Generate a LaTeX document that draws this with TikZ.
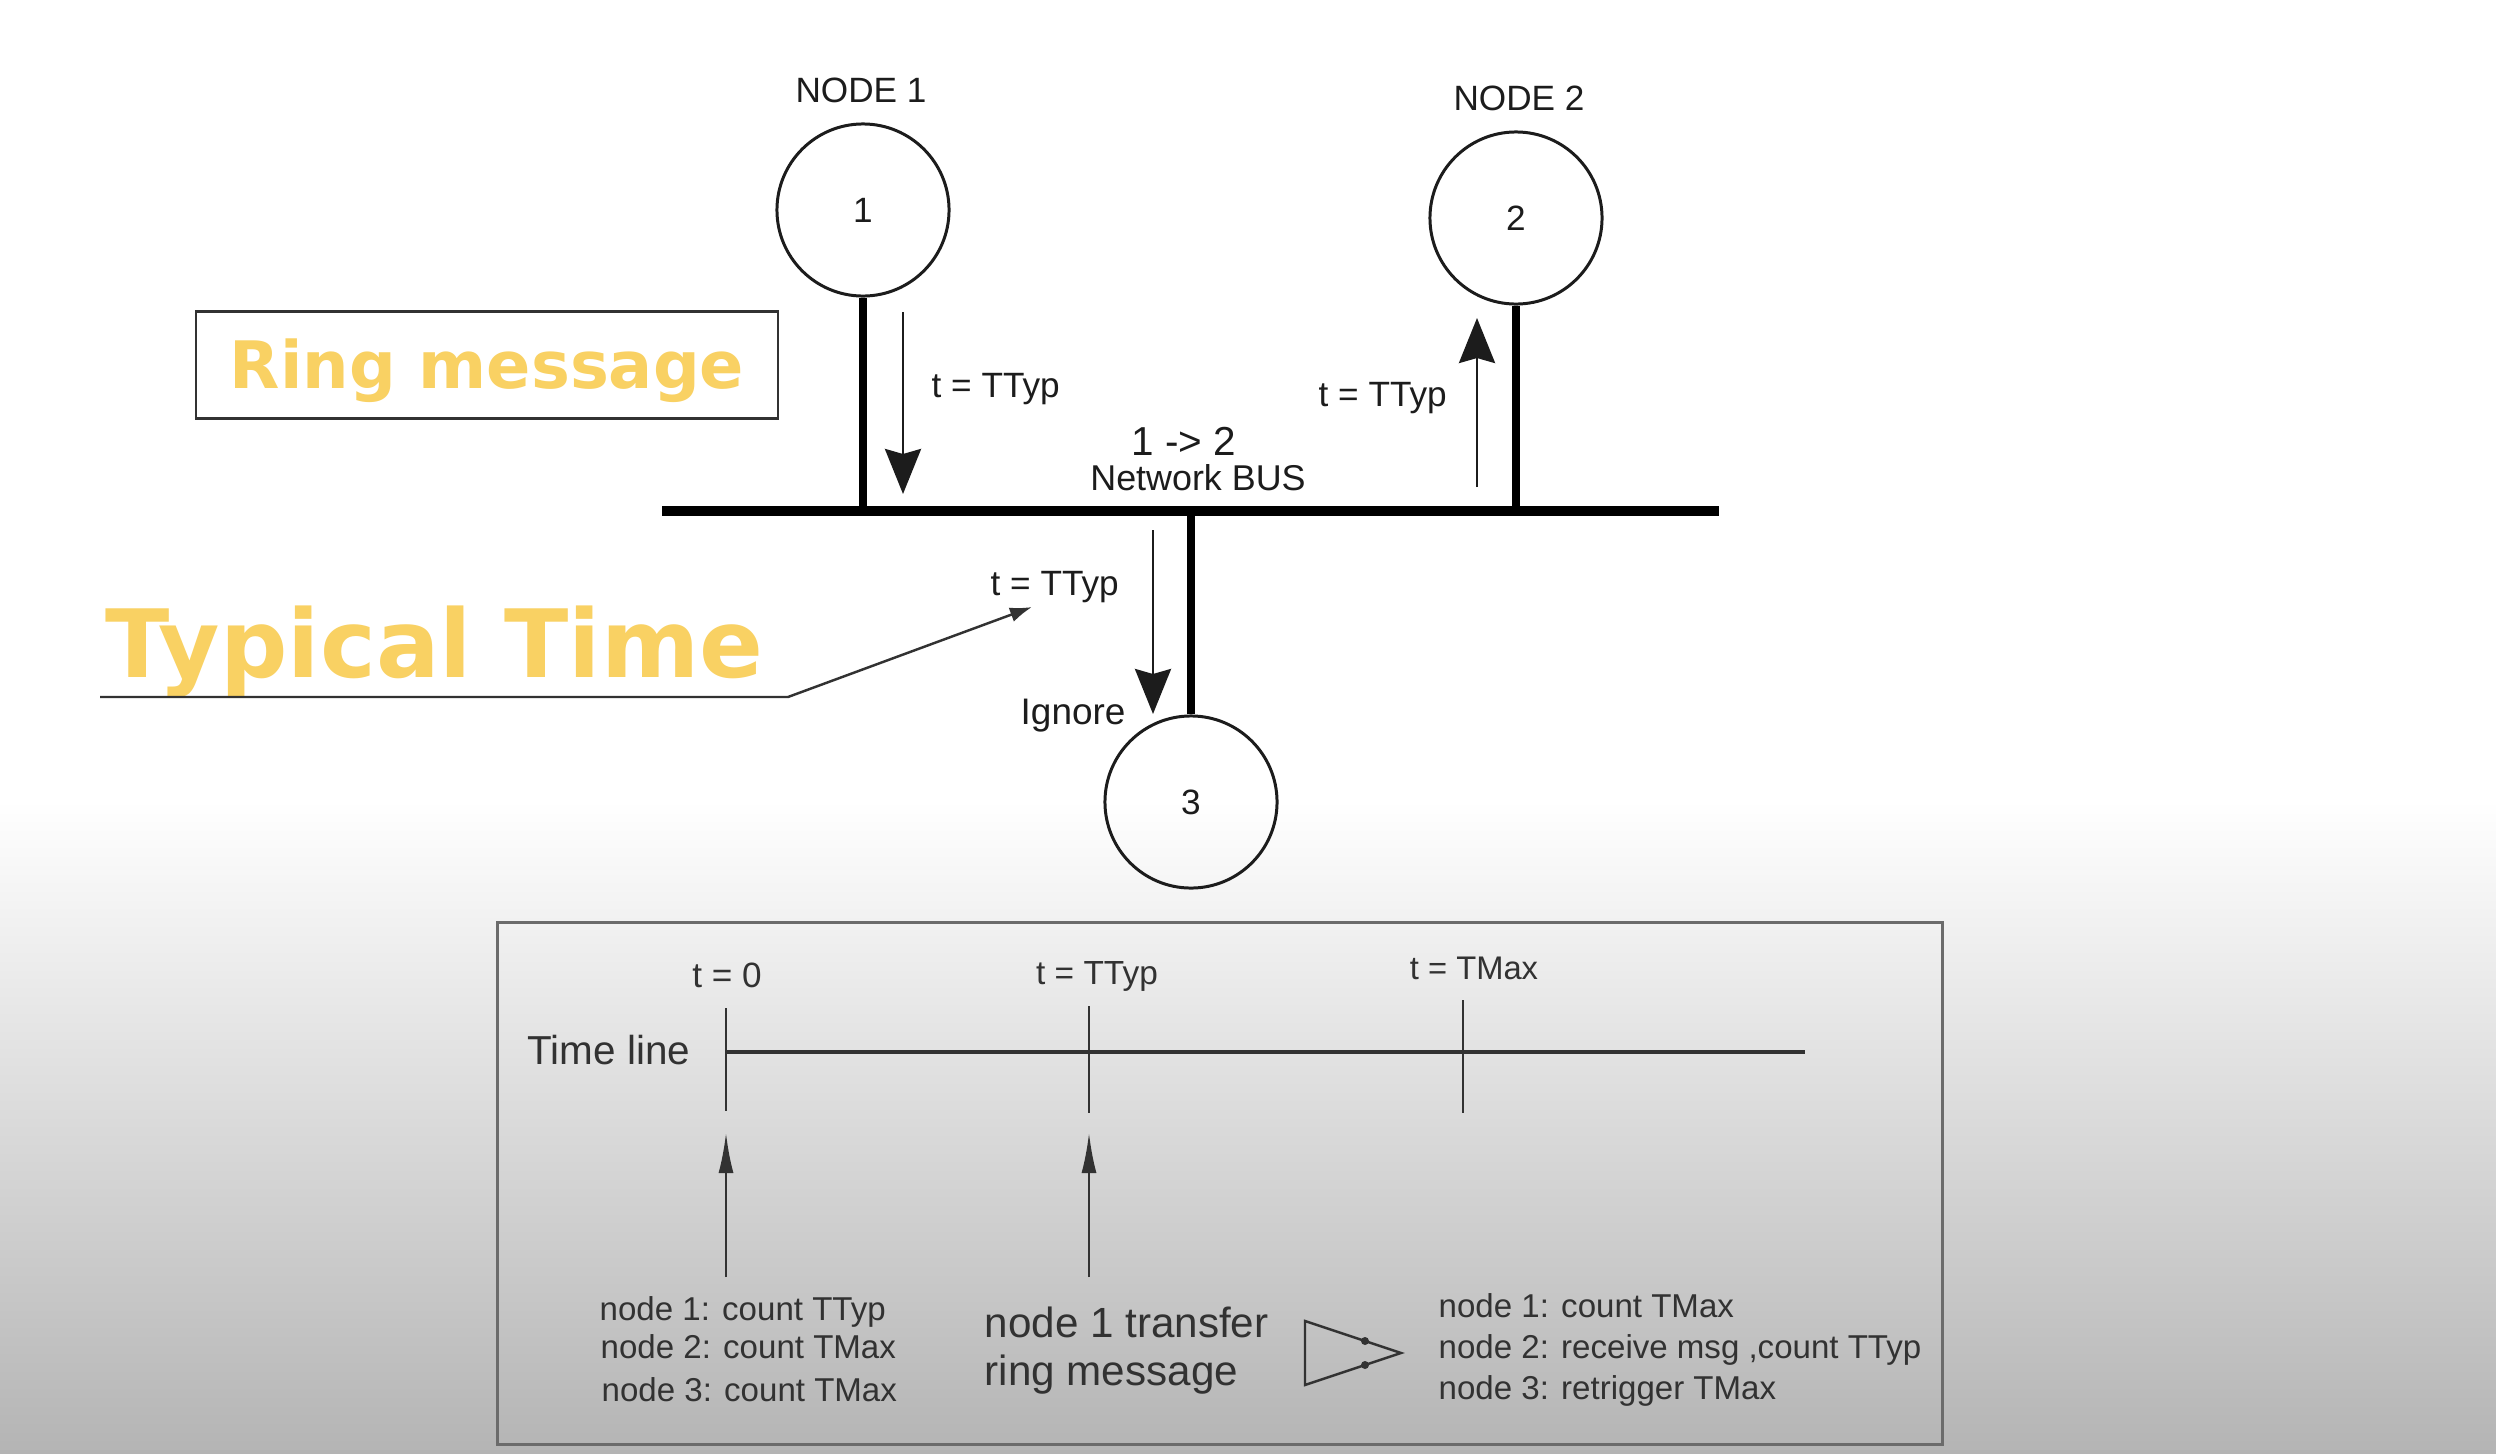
\documentclass[tikz,border=0pt]{standalone}
\usepackage{fontspec}
\setmainfont{Liberation Sans}
\newfontfamily\dvsans{DejaVu Sans}
\usetikzlibrary{arrows.meta}
\definecolor{ylw}{RGB}{249,209,99}
\definecolor{ink}{RGB}{28,28,28}
\definecolor{ink2}{RGB}{50,50,50}
\definecolor{bggray}{RGB}{180,180,180}
\newcommand\fsz[1]{\fontsize{#1}{#1}\selectfont}
\tikzset{
  netnode/.style={circle,draw=ink,line width=0.85pt,minimum size=1.72cm,inner sep=0pt,font=\fsz{10},text=ink},
  stemline/.style={line width=2.3pt,draw=black},
  busline/.style={line width=2.8pt,draw=black},
  msgarrow/.style={line width=0.8pt,draw=ink,-{Stealth[length=4.5mm,width=3.6mm,inset=0.5mm]}},
  lbl/.style={inner sep=0pt,text=ink},
  tlbl/.style={inner sep=0pt,text=ink2},
  bigy/.style={inner sep=0pt,text=ylw,font=\dvsans\bfseries},
  tick/.style={line width=0.7pt,draw=ink2},
  tlarrow/.style={line width=0.7pt,draw=ink2,-{Latex[length=4mm,width=1.5mm]}},
}
\begin{document}
\begin{tikzpicture}[x=0.01cm,y=-0.01cm]
\useasboundingbox (0,0) rectangle (2496,1454);
\fill[white] (0,0) rectangle (2496,1454);
\shade[top color=white,bottom color=bggray] (0,800) rectangle (2496,1454);

% network nodes
\node[netnode] (n1) at (863,210) {1};
\node[netnode] (n2) at (1516,218) {2};
\node[netnode] (n3) at (1191,802) {3};
\node[lbl,font=\fsz{10},anchor=base] (n1t) at (861,102) {NODE 1};
\node[lbl,font=\fsz{10},anchor=base] (n2t) at (1519,110) {NODE 2};

% bus
\coordinate (busL) at (662,511);
\coordinate (busR) at (1719,511);
\draw[busline] (busL) -- (busR);
\draw[stemline] (n1.south) -- (n1.south |- busL);
\draw[stemline] (n2.south) -- (n2.south |- busL);
\draw[stemline] (n3.north) -- (n3.north |- busL);

% message arrows
\coordinate (a1s) at (903,312); \coordinate (a1e) at (903,494);
\coordinate (a2s) at (1477,487); \coordinate (a2e) at (1477,318);
\coordinate (a3s) at (1153,530); \coordinate (a3e) at (1153,714);
\draw[msgarrow] (a1s) -- (a1e);
\draw[msgarrow] (a2s) -- (a2e);
\draw[msgarrow] (a3s) -- (a3e);
\node[lbl,font=\fsz{10},anchor=base west] (l1) at (931,397) {t = TTyp};
\node[lbl,font=\fsz{10},anchor=base west] (l2) at (1318,406) {t = TTyp};
\node[lbl,font=\fsz{10},anchor=base west] (l3) at (990,595) {t = TTyp};
\node[lbl,font=\fsz{11.5},anchor=base] (l12) at (1184,455) {1 -> 2};
\node[lbl,font=\fsz{10.2},anchor=base] (lbus) at (1198,490) {Network BUS};
\node[lbl,font=\fsz{10.5},anchor=base west] (lign) at (1020,724) {Ignore};

% yellow labels
\node[draw=ink2,line width=0.6pt,minimum width=5.81cm,minimum height=1.07cm,text height=13.4pt,text depth=0pt,inner sep=0pt,text=ylw,font=\dvsans\bfseries\fsz{18.6}] (rm) at (487,365) {Ring message};
\node[bigy,font=\dvsans\bfseries\fsz{26.8},anchor=base west] (tt) at (105,677) {Typical Time};
\coordinate (ul0) at (100,697);
\coordinate (ul1) at (788,697);
\coordinate (ul2) at (1032,607);
\draw[line width=0.7pt,draw=ink2,-{Latex[length=2.2mm,width=1.5mm]}] (ul0) -- (ul1) -- (ul2);

% time line box
\node[draw=black!58,line width=0.9pt,minimum width=14.44cm,minimum height=5.21cm,inner sep=0pt] (box) at (1220,1183.5) {};
\node[tlbl,font=\fsz{11.5},anchor=base west] (tl) at (527,1064) {Time line};
\coordinate (t0) at (726,1052);
\coordinate (tend) at (1805,1052);
\draw[line width=1.4pt,draw=ink2] (t0) -- (tend);
\coordinate (k0a) at (726,1008); \coordinate (k0b) at (726,1111);
\coordinate (k1a) at (1089,1006); \coordinate (k1b) at (1089,1113);
\coordinate (k2a) at (1463,1000); \coordinate (k2b) at (1463,1113);
\draw[tick] (k0a) -- (k0b);
\draw[tick] (k1a) -- (k1b);
\draw[tick] (k2a) -- (k2b);
\node[tlbl,font=\fsz{10},anchor=base] (tk0) at (727,987) {t = 0};
\node[tlbl,font=\fsz{9.5},anchor=base] (tk1) at (1097,984) {t = TTyp};
\node[tlbl,font=\fsz{9.3},anchor=base] (tk2) at (1474,979) {t = TMax};
\coordinate (u0s) at (726,1277); \coordinate (u0e) at (726,1133);
\coordinate (u1s) at (1089,1277); \coordinate (u1e) at (1089,1133);
\draw[tlarrow] (u0s) -- (u0e);
\draw[tlarrow] (u1s) -- (u1e);

\node[tlbl,font=\fsz{9.4},anchor=base west] (b11) at (599,1320) {node 1: count TTyp};
\node[tlbl,font=\fsz{9.4},anchor=base west] (b12) at (600,1358) {node 2: count TMax};
\node[tlbl,font=\fsz{9.4},anchor=base west] (b13) at (601,1401) {node 3: count TMax};
\node[tlbl,font=\fsz{12},anchor=base west] (b21) at (984,1337) {node 1 transfer};
\node[tlbl,font=\fsz{12},anchor=base west] (b22) at (984,1385) {ring message};
\node[tlbl,font=\fsz{9.4},anchor=base west] (b31) at (1438,1317) {node 1: count TMax};
\node[tlbl,font=\fsz{9.4},anchor=base west] (b32) at (1438,1358) {node 2: receive msg ,count TTyp};
\node[tlbl,font=\fsz{9.4},anchor=base west] (b33) at (1438,1399) {node 3: retrigger TMax};

% triangle symbol
\coordinate (trA) at (1305,1321);
\coordinate (trB) at (1305,1385);
\coordinate (trC) at (1401,1353);
\draw[line width=0.7pt,draw=ink2,line join=miter] (trA) -- (trC) -- (trB) -- cycle;
\fill[ink2] (1365,1341) circle (4);
\fill[ink2] (1365,1365) circle (4);
\end{tikzpicture}
\end{document}
